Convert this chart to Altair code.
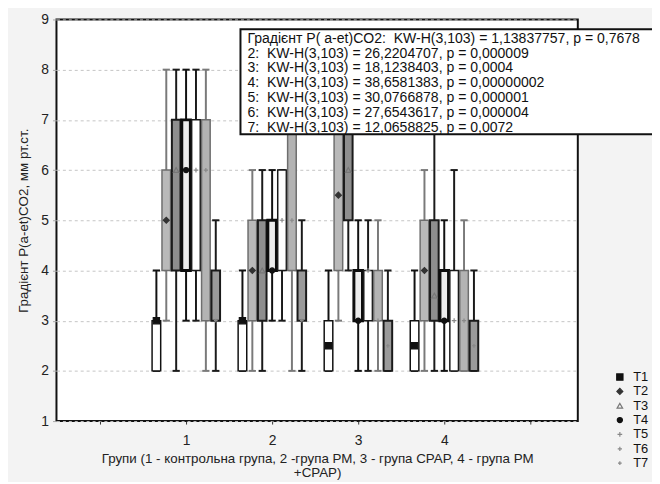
import altair as alt
import pandas as pd

groups = [1, 2, 3, 4]
times = ["T1", "T2", "T3", "T4", "T5", "T6", "T7"]

# per group: values for T1..T7
mins = [[2, 3, 2, 3, 3, 2, 2],
        [2, 2, 2, 3, 3, 2, 2],
        [2, 3, 4, 2, 2, 2, 2],
        [2, 2, 2, 2, 2, 2, 2]]
q1s = [[2, 4, 4, 4, 4, 3, 3],
       [2, 3, 3, 4, 4, 4, 3],
       [2, 4, 5, 3, 3, 3, 2],
       [2, 3, 3, 3, 2, 2, 2]]
meds = [[3, 5, 6, 6, 6, 6, 3],
        [3, 4, 4, 4, 5, 5, 3],
        [2.5, 5.5, 6, 3, 4, 3, 2.5],
        [2.5, 4, 3.5, 3, 3, 3, 2.5]]
q3s = [[3, 6, 7, 7, 7, 7, 4],
       [3, 5, 5, 5, 6, 7, 4],
       [3, 7, 7, 4, 4, 4, 3],
       [3, 5, 5, 4, 4, 4, 3]]
maxs = [[4, 8, 8, 8, 8, 8, 5],
        [4, 6, 6, 6, 6, 8, 5],
        [4, 8, 8, 5, 5, 5, 4],
        [4, 6, 8, 5, 6, 5, 4]]

NB = "\u00a0"
kw_lines = [
    "Градієнт P( a-et)CO2:" + NB + " KW-H(3,103) = 1,13837757, p = 0,7678",
    "2:" + NB + " KW-H(3,103) = 26,2204707, p = 0,000009",
    "3:" + NB + " KW-H(3,103) = 18,1238403, p = 0,0004",
    "4:" + NB + " KW-H(3,103) = 38,6581383, p = 0,00000002",
    "5:" + NB + " KW-H(3,103) = 30,0766878, p = 0,000001",
    "6:" + NB + " KW-H(3,103) = 27,6543617, p = 0,000004",
    "7:" + NB + " KW-H(3,103) = 12,0658825, p = 0,0072",
]

x_title = ["Групи (1 - контрольна група, 2 -група РМ, 3 - група CPAP, 4 - група РМ", "+CPAP)"]
y_title = "Градієнт P(a-et)CO2, мм рт.ст."

# styles per time point
box_fill = ["#ffffff", "#b9b9b9", "#8e8e8e", "#ececec", "#ffffff", "#b3b3b3", "#9a9a9a"]
box_stroke = ["#111111", "#6e6e6e", "#1a1a1a", "#0d0d0d", "#1a1a1a", "#6e6e6e", "#1a1a1a"]
box_sw = [1.5, 1.5, 2, 3, 1.5, 1.5, 2]
whisk_col = ["#111111", "#7a7a7a", "#1a1a1a", "#111111", "#1a1a1a", "#7a7a7a", "#1a1a1a"]

step = 0.115
half_box = 0.05
half_cap = 0.042

rows = []
for gi, g in enumerate(groups):
    for ti, t in enumerate(times):
        pos = g + (ti - 3) * step
        rows.append(dict(group=g, T=t, pos=pos,
                         left=pos - half_box, right=pos + half_box,
                         capl=pos - half_cap, capr=pos + half_cap,
                         mn=mins[gi][ti], q1=q1s[gi][ti], med=meds[gi][ti],
                         q3=q3s[gi][ti], mx=maxs[gi][ti],
                         bfill=box_fill[ti], bstroke=box_stroke[ti], bsw=box_sw[ti],
                         wcol=whisk_col[ti]))
df = pd.DataFrame(rows)

FONT = "Liberation Sans"
xscale = alt.Scale(domain=[-0.506, 5.552], nice=False, zero=False)
yscale = alt.Scale(domain=[1, 9], nice=False, zero=False)
xaxis = alt.Axis(values=[0, 1, 2, 3, 4, 5],
                 labelExpr="datum.value >= 1 && datum.value <= 4 ? datum.label : ''",
                 title=x_title, grid=False, domain=False, tickSize=3, tickColor="#333",
                 labelFontSize=14, labelPadding=10, labelColor="#222", labelFont=FONT,
                 titleFontSize=13.5, titlePadding=4, titleColor="#222", titleFont=FONT,
                 titleFontWeight="normal", titleLineHeight=14)
yaxis = alt.Axis(values=list(range(1, 10)), title=y_title, grid=True, gridDash=[3, 3],
                 gridColor="#c4c4c4", gridWidth=1, domain=False, tickSize=4, tickColor="#aaa",
                 labelFontSize=14, labelPadding=4, labelColor="#222", labelFont=FONT,
                 titleFontSize=13.5, titlePadding=11, titleColor="#222", titleFont=FONT,
                 titleFontWeight="normal")


def X(f):
    return alt.X(f"{f}:Q", scale=xscale, axis=xaxis)


def Y(f):
    return alt.Y(f"{f}:Q", scale=yscale, axis=yaxis)


base = alt.Chart(df)

whisk = base.mark_rule(strokeWidth=2).encode(
    x=X("pos"), y=Y("mn"), y2="mx", stroke=alt.Stroke("wcol:N", scale=None))
cap_lo = base.mark_rule(strokeWidth=2).encode(
    x=X("capl"), x2="capr", y=Y("mn"), stroke=alt.Stroke("wcol:N", scale=None))
cap_hi = base.mark_rule(strokeWidth=2).encode(
    x=X("capl"), x2="capr", y=Y("mx"), stroke=alt.Stroke("wcol:N", scale=None))
boxes = base.mark_rect().encode(
    x=X("left"), x2="right", y=Y("q1"), y2="q3",
    fill=alt.Fill("bfill:N", scale=None),
    stroke=alt.Stroke("bstroke:N", scale=None),
    strokeWidth=alt.StrokeWidth("bsw:Q", scale=None))

plus = "M-1,0L1,0M0,-1L0,1"
legend = alt.Legend(title=None, orient="none", legendX=563, legendY=355,
                    labelFont=FONT, labelFontSize=13, labelColor="#111",
                    rowPadding=0.5, symbolStrokeWidth=1.2, labelOffset=7)
meds_layer = base.mark_point(opacity=1, strokeWidth=1.2).encode(
    x=X("pos"), y=Y("med"),
    shape=alt.Shape("T:N", scale=alt.Scale(domain=times, range=[
        "square", "diamond", "triangle-up", "circle", plus, plus, plus]), legend=legend),
    fill=alt.Fill("T:N", scale=alt.Scale(domain=times, range=[
        "#111111", "#333333", "transparent", "#111111", "transparent", "transparent", "transparent"]),
        legend=legend),
    stroke=alt.Stroke("T:N", scale=alt.Scale(domain=times, range=[
        "#111111", "#333333", "#777777", "#111111", "#888888", "#888888", "#888888"]),
        legend=legend),
    size=alt.Size("T:N", scale=alt.Scale(domain=times, range=[40, 14, 18, 50, 45, 45, 45]),
                  legend=legend),
)

note_box = alt.Chart(alt.Data(values=[{}])).mark_rect(
    fill="white", stroke="#111", strokeWidth=2).encode(
    x=alt.value(243 - 57), x2=alt.value(700 - 57),
    y=alt.value(27 - 17), y2=alt.value(133 - 17))
note_text = alt.Chart(alt.Data(values=[{}])).mark_text(
    align="left", baseline="alphabetic", font=FONT, fontSize=14.2, lineHeight=15,
    color="#111").encode(
    x=alt.value(250 - 57), y=alt.value(40.5 - 17), text=alt.value(kw_lines))

chart = alt.layer(whisk, cap_lo, cap_hi, boxes, meds_layer, note_box, note_text).resolve_scale(
    stroke="independent", fill="independent", shape="independent", size="independent",
    strokeWidth="independent"
).properties(
    width=527, height=406,
    autosize=alt.AutoSizeParams(type="none"),
    padding={"left": 49, "top": 9, "right": 75, "bottom": 59},
    background="#f3f3f3",
).configure_view(fill="white", stroke="#111", strokeWidth=2)

chart.save("out.html", embed_options={"renderer": "svg", "actions": False})
